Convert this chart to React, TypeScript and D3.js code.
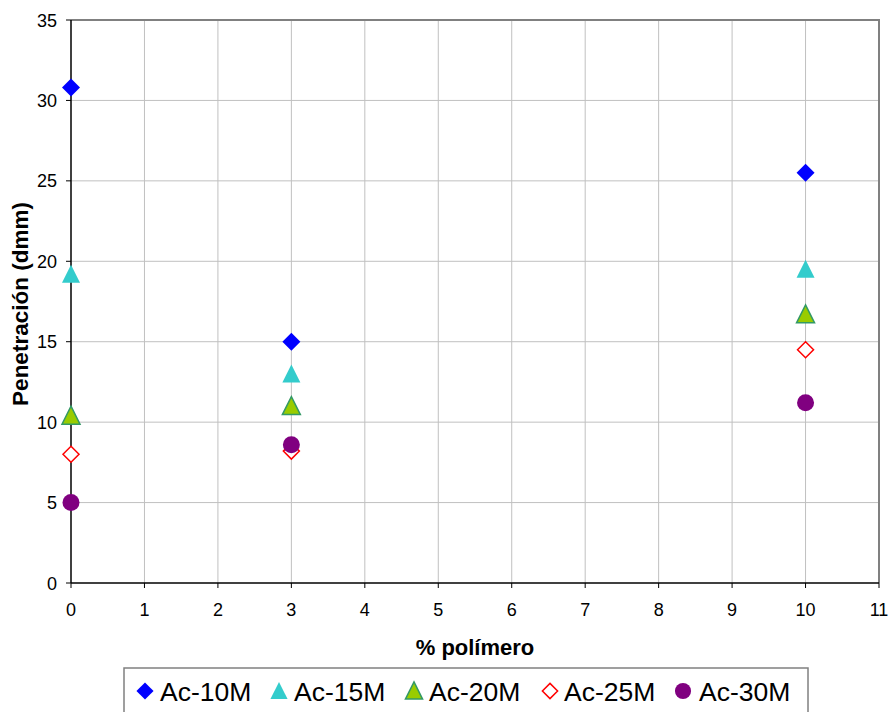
import React from "react";
import * as d3 from "d3";

const xTicks = [0, 1, 2, 3, 4, 5, 6, 7, 8, 9, 10, 11];
const yTicks = [0, 5, 10, 15, 20, 25, 30, 35];
const xValues = [0, 3, 10];
const seriesNames = ["Ac-10M", "Ac-15M", "Ac-20M", "Ac-25M", "Ac-30M"];
const ac10 = [30.8, 15.0, 25.5];
const ac15 = [19.2, 13.0, 19.5];
const ac20 = [10.4, 11.0, 16.7];
const ac25 = [8.0, 8.2, 14.5];
const ac30 = [5.0, 8.6, 11.2];

type Shape = "diamond" | "triangle" | "diamondOpen" | "circle";
const styles: { shape: Shape; fill: string; stroke: string }[] = [
  { shape: "diamond", fill: "#0000ff", stroke: "none" },
  { shape: "triangle", fill: "#33cccc", stroke: "none" },
  { shape: "triangle", fill: "#99cc00", stroke: "#339966" },
  { shape: "diamondOpen", fill: "#ffffff", stroke: "#ff0000" },
  { shape: "circle", fill: "#800080", stroke: "none" },
];

function Marker({ cx, cy, shape, fill, stroke, s = 1 }: any) {
  if (shape === "diamond" || shape === "diamondOpen") {
    const r = (shape === "diamond" ? 9 : 8) * s;
    return (
      <path
        d={`M${cx},${cy - r}L${cx + r},${cy}L${cx},${cy + r}L${cx - r},${cy}Z`}
        fill={fill}
        stroke={stroke}
        strokeWidth={1.5}
      />
    );
  }
  if (shape === "triangle") {
    const w = 9 * s;
    const h = 17 * s;
    return (
      <path
        d={`M${cx},${cy - h / 2 - 1}L${cx + w},${cy + h / 2}L${cx - w},${cy + h / 2}Z`}
        fill={fill}
        stroke={stroke}
        strokeWidth={stroke === "none" ? 0 : 1.5}
      />
    );
  }
  return <circle cx={cx} cy={cy} r={8.5 * s} fill={fill} stroke={stroke} />;
}

export default function App() {
  const W = 890;
  const H = 712;
  const left = 71;
  const right = 879;
  const top = 20;
  const bottom = 583;
  const x = d3.scaleLinear().domain([0, 11]).range([left, right]);
  const y = d3.scaleLinear().domain([0, 35]).range([bottom, top]);
  const data = [ac10, ac15, ac20, ac25, ac30];
  const font = "Arial, 'Liberation Sans', sans-serif";

  const legendMarkerX = [145, 279, 414, 550, 683];
  const legendTextX = [160, 294, 429, 564, 699];

  return (
    <svg
      width={W}
      height={H}
      style={{ position: "absolute", left: 0, top: 0, background: "#fff" }}
      fontFamily={font}
    >
      <rect x={0} y={0} width={W} height={H} fill="#fff" />
      {/* grid */}
      {xTicks.slice(1).map((t) => (
        <line key={"gx" + t} x1={x(t)} x2={x(t)} y1={top} y2={bottom} stroke="#c0c0c0" strokeWidth={1} />
      ))}
      {yTicks.slice(1).map((t) => (
        <line key={"gy" + t} x1={left} x2={right} y1={y(t)} y2={y(t)} stroke="#c0c0c0" strokeWidth={1} />
      ))}
      {/* plot border top/right */}
      <line x1={left} x2={right + 1} y1={top} y2={top} stroke="#808080" strokeWidth={2} />
      <line x1={right} x2={right} y1={top} y2={bottom} stroke="#808080" strokeWidth={2} />
      {/* axes */}
      <line x1={left} x2={left} y1={top} y2={bottom} stroke="#000" strokeWidth={1.5} />
      <line x1={left} x2={right} y1={bottom} y2={bottom} stroke="#000" strokeWidth={1.5} />
      {xTicks.map((t) => (
        <g key={"xt" + t}>
          <line x1={x(t)} x2={x(t)} y1={bottom} y2={bottom + 5} stroke="#000" />
          <text x={x(t)} y={616} textAnchor="middle" fontSize={18} fill="#000">
            {t}
          </text>
        </g>
      ))}
      {yTicks.map((t) => (
        <g key={"yt" + t}>
          <line x1={left - 5} x2={left} y1={y(t)} y2={y(t)} stroke="#000" />
          <text x={57} y={y(t) + 6.5} textAnchor="end" fontSize={18} fill="#000">
            {t}
          </text>
        </g>
      ))}
      <text x={475} y={655} textAnchor="middle" fontSize={22} fontWeight="bold">
        % polímero
      </text>
      <text
        transform={`translate(28,304) rotate(-90)`}
        textAnchor="middle"
        fontSize={22.5}
        fontWeight="bold"
      >
        Penetración (dmm)
      </text>
      {/* markers */}
      {data.map((vals, si) =>
        vals.map((v, i) => (
          <Marker
            key={si + "-" + i}
            cx={x(xValues[i])}
            cy={y(v)}
            shape={styles[si].shape}
            fill={styles[si].fill}
            stroke={styles[si].stroke}
          />
        ))
      )}
      {/* legend */}
      <rect x={124} y={668} width={684} height={50} fill="#fff" stroke="#808080" strokeWidth={1.5} />
      {seriesNames.map((n, i) => (
        <g key={n}>
          <Marker
            cx={legendMarkerX[i]}
            cy={691}
            shape={styles[i].shape}
            fill={styles[i].fill}
            stroke={styles[i].stroke}
            s={0.95}
          />
          <text x={legendTextX[i]} y={701} fontSize={26.5} fill="#000">
            {n}
          </text>
        </g>
      ))}
    </svg>
  );
}
